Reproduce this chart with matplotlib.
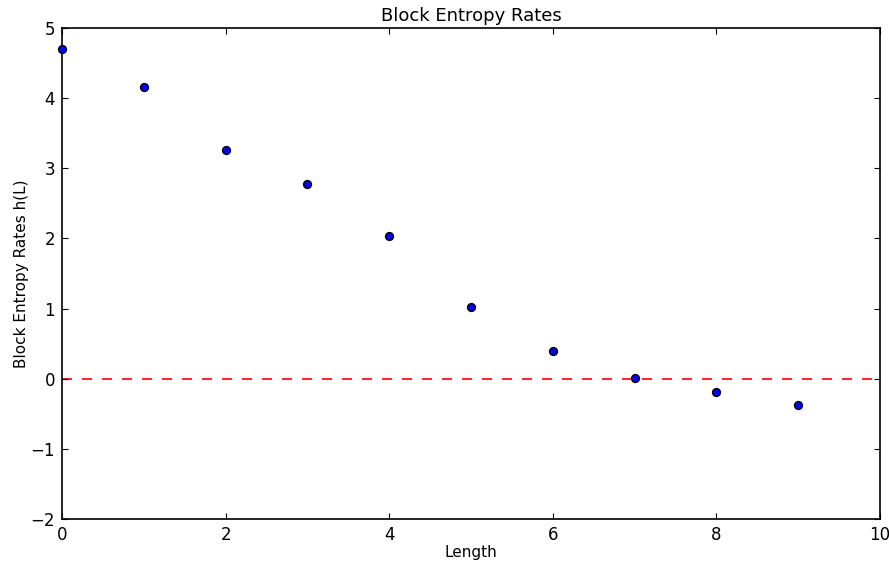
import matplotlib
matplotlib.use('Agg')
import matplotlib.pyplot as plt

# block length vs entropy rate estimate
lengths = [0, 1, 2, 3, 4, 5, 6, 7, 8, 9]
rates = [4.70, 4.16, 3.26, 2.77, 2.03, 1.02, 0.39, 0.01, -0.19, -0.38]

plt.rcParams['font.family'] = 'DejaVu Sans'
plt.rcParams['font.size'] = 12

fig = plt.figure(figsize=(8.89, 5.63), dpi=100)
ax = fig.add_axes([0.0697, 0.0782, 0.9202, 0.8721])

ax.axhline(0, color='red', linestyle=(0, (6, 6)), linewidth=1.2, zorder=1)
ax.scatter(lengths, rates, s=32, color='blue', edgecolors='black',
           linewidths=1, zorder=3, clip_on=False)

ax.set_xlim(0, 10)
ax.set_ylim(-2, 5)
ax.set_xticks(range(0, 11, 2))
ax.set_yticks(range(-2, 6))
ax.tick_params(direction='in', top=True, right=True, length=4, width=0.8,
               labelsize=12, pad=5)
for s in ax.spines.values():
    s.set_linewidth(1.2)

ax.set_title('Block Entropy Rates', fontsize=13, pad=5)
ax.set_xlabel('Length', fontsize=11, labelpad=1)
ax.set_ylabel('Block Entropy Rates h(L)', fontsize=11, labelpad=1)

fig.savefig('out.png', dpi=100)
